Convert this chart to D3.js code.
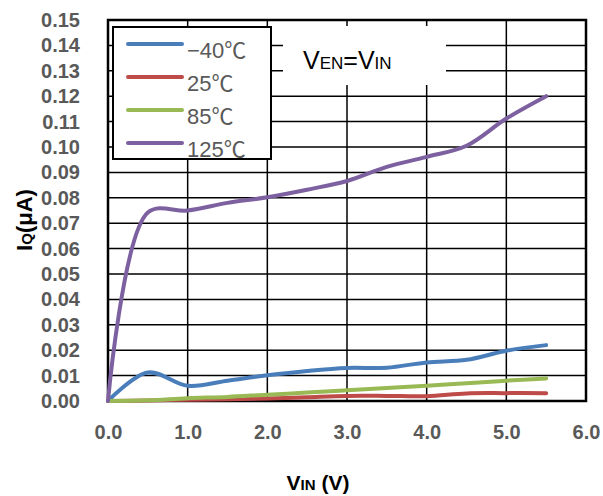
<!DOCTYPE html>
<html>
<head>
<meta charset="utf-8">
<script src="https://cdn.jsdelivr.net/npm/d3@7"></script>
<style>
  html, body { margin: 0; padding: 0; background: #fff; }
  svg { display: block; }
</style>
</head>
<body>
<div id="chart"></div>
<script>
// ---- Data ----
const vin = [0, 0.5, 1.0, 1.5, 2.0, 2.5, 3.0, 3.5, 4.0, 4.5, 5.0, 5.5];
const seriesNames = ["\u221240\u2103", "25\u2103", "85\u2103", "125\u2103"];
const iqMinus40 = [0, 0.0112, 0.006, 0.008, 0.0101, 0.0118, 0.013, 0.0131, 0.0152, 0.0162, 0.0198, 0.022];
const iq25      = [0, 0.0002, 0.0005, 0.0007, 0.001, 0.0015, 0.002, 0.002, 0.0019, 0.003, 0.0031, 0.0031];
const iq85      = [0, 0.0003, 0.0011, 0.0016, 0.0025, 0.0033, 0.0042, 0.0051, 0.006, 0.007, 0.008, 0.0089];
const iq125     = [0, 0.0742, 0.075, 0.078, 0.0802, 0.0832, 0.0866, 0.0922, 0.0961, 0.1005, 0.1112, 0.120];
const xTicks = [0, 1, 2, 3, 4, 5, 6];
const yTicks = [0, 0.01, 0.02, 0.03, 0.04, 0.05, 0.06, 0.07, 0.08, 0.09, 0.10, 0.11, 0.12, 0.13, 0.14, 0.15];
const colors = ["#4A7EBB", "#BE4B48", "#98B954", "#7D60A0"];

const W = 603, H = 496;
const margin = { left: 108, top: 20, right: 17, bottom: 95 };
const iw = W - margin.left - margin.right, ih = H - margin.top - margin.bottom;

const svg = d3.select("#chart").append("svg").attr("width", W).attr("height", H);
const g = svg.append("g").attr("transform", `translate(${margin.left},${margin.top})`);

const x = d3.scaleLinear().domain([0, 6]).range([0, iw]);
const y = d3.scaleLinear().domain([0, 0.15]).range([ih, 0]);

// gridlines
g.append("g").selectAll("line.h").data(yTicks).join("line")
  .attr("x1", 0).attr("x2", iw).attr("y1", d => y(d)).attr("y2", d => y(d))
  .attr("stroke", "#000").attr("stroke-width", 1.5);
g.append("g").selectAll("line.v").data(xTicks).join("line")
  .attr("y1", 0).attr("y2", ih).attr("x1", d => x(d)).attr("x2", d => x(d))
  .attr("stroke", "#000").attr("stroke-width", 1.5);

// plot border
g.append("rect").attr("x", 0).attr("y", 0).attr("width", iw).attr("height", ih)
  .attr("fill", "none").attr("stroke", "#000").attr("stroke-width", 2.5);

// axes labels (ticks via d3 axes, lines hidden)
const yAxis = g.append("g").call(d3.axisLeft(y).tickValues(yTicks).tickFormat(d3.format(".2f")).tickSize(0).tickPadding(28));
const xAxis = g.append("g").attr("transform", `translate(0,${ih})`)
  .call(d3.axisBottom(x).tickValues(xTicks).tickFormat(d3.format(".1f")).tickSize(0).tickPadding(24));
[yAxis, xAxis].forEach(a => {
  a.select(".domain").remove();
  a.selectAll("text").attr("font-family", "Liberation Sans, Arial, sans-serif")
    .attr("font-weight", "bold").attr("font-size", 20).attr("fill", "#595959");
});

// text box V_EN = V_IN
g.append("rect").attr("x", 283 - margin.left).attr("y", 26 - margin.top).attr("width", 163).attr("height", 59).attr("fill", "#fff");
const ven = g.append("text").attr("x", 303 - margin.left).attr("y", 69 - margin.top)
  .attr("font-family", "Liberation Sans, Arial, sans-serif").attr("fill", "#000");
ven.append("tspan").attr("font-size", 25).text("V");
ven.append("tspan").attr("font-size", 17).text("EN");
ven.append("tspan").attr("font-size", 25).text("=V");
ven.append("tspan").attr("font-size", 17).text("IN");

// lines
const allSeries = [iqMinus40, iq25, iq85, iq125];
const line = d3.line().x((d, i) => x(vin[i])).y(d => y(d)).curve(d3.curveCatmullRom.alpha(0.5));
g.append("g").selectAll("path").data(allSeries).join("path")
  .attr("d", d => line(d)).attr("fill", "none")
  .attr("stroke", (d, i) => colors[i]).attr("stroke-width", 4)
  .attr("stroke-linecap", "round").attr("stroke-linejoin", "round");

// legend
const lg = svg.append("g");
lg.append("rect").attr("x", 113).attr("y", 27).attr("width", 158).attr("height", 132)
  .attr("fill", "#fff").attr("stroke", "#000").attr("stroke-width", 2);
const rows = lg.selectAll("g.row").data(seriesNames).join("g")
  .attr("transform", (d, i) => `translate(0,${44 + i * 33})`);
rows.append("line").attr("x1", 128).attr("x2", 182).attr("y1", 0).attr("y2", 0)
  .attr("stroke", (d, i) => colors[i]).attr("stroke-width", 4).attr("stroke-linecap", "round");
rows.append("text").attr("x", 187).attr("y", 14)
  .attr("font-family", "Liberation Sans, Noto Sans CJK SC, sans-serif").attr("font-size", 22)
  .attr("fill", "#595959").text(d => d);

// axis titles
const xt = svg.append("text").attr("x", 318).attr("y", 490).attr("text-anchor", "middle")
  .attr("font-family", "Liberation Sans, Arial, sans-serif").attr("font-weight", "bold").attr("fill", "#000");
xt.append("tspan").attr("font-size", 21).text("V");
xt.append("tspan").attr("font-size", 15).text("IN");
xt.append("tspan").attr("font-size", 21).text(" (V)");

const yt = svg.append("text").attr("transform", "translate(32,220) rotate(-90)").attr("text-anchor", "middle")
  .attr("font-family", "Liberation Sans, Arial, sans-serif").attr("font-weight", "bold").attr("fill", "#000");
yt.append("tspan").attr("font-size", 22).text("I");
yt.append("tspan").attr("font-size", 15).text("Q");
yt.append("tspan").attr("font-size", 22).text("(\u03bcA)");
</script>
</body>
</html>
